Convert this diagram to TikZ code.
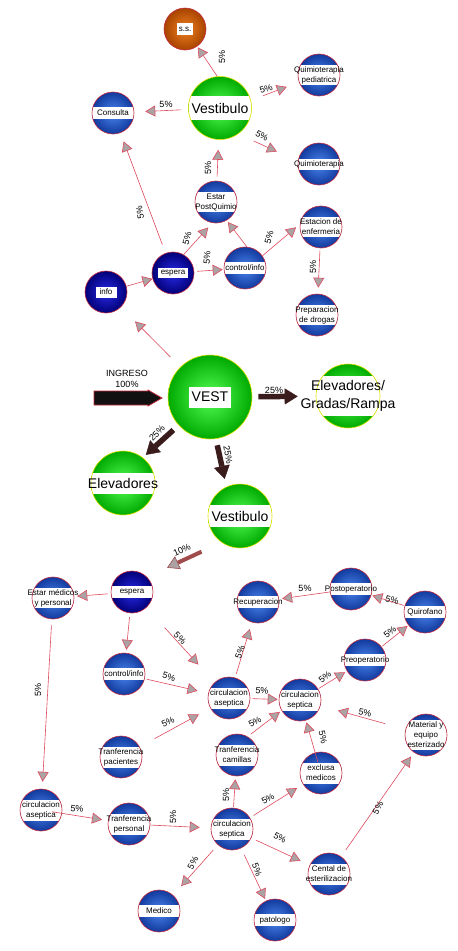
\documentclass[tikz,border=0pt]{standalone}
\usepackage{fontspec}
\setmainfont{Liberation Sans}
\usetikzlibrary{arrows.meta}

\definecolor{rimred}{HTML}{C42A3E}
\definecolor{rimyel}{HTML}{E4E400}
\definecolor{blueIn}{HTML}{4A86EE}
\definecolor{blueOut}{HTML}{123A9E}
\definecolor{navyIn}{HTML}{2A2AE6}
\definecolor{navyOut}{HTML}{000078}
\definecolor{greenIn}{HTML}{55FF55}
\definecolor{greenOut}{HTML}{00AA00}
\definecolor{orangeIn}{HTML}{EE8020}
\definecolor{orangeOut}{HTML}{A84400}
\definecolor{link}{HTML}{DE4A5E}
\definecolor{tipgray}{HTML}{ABA2A4}
\definecolor{heavy}{HTML}{3A1C1C}
\definecolor{tenbrown}{HTML}{A04C4C}
\definecolor{ingress}{HTML}{121010}

\newcommand\smalltxt{\fontsize{8}{10}\selectfont}
\newcommand\bigtxt{\fontsize{14}{18}\selectfont}
\newcommand\pcttxt{\fontsize{9}{11}\selectfont}

% a shaded ball of fixed size, with its caption set on top of it
% #1 ball style, #2 caption style, #3 name, #4 position, #5 caption
\newcommand\ballnode[5]{%
  \node[#1] (#3) at (#4) {};
  \node[#2] (#3-txt) at (#3) {#5};}

\tikzset{
  sphere/.style={circle, inner sep=0pt, line width=0.6pt},
  bluesph/.style={sphere, minimum size=42pt, draw=rimred, inner color=blueIn, outer color=blueOut},
  navysph/.style={sphere, minimum size=42pt, draw=rimred, inner color=navyIn, outer color=navyOut},
  orangesph/.style={sphere, minimum size=42pt, draw=rimred, inner color=orangeIn, outer color=orangeOut},
  greensph/.style={sphere, minimum size=64pt, draw=rimyel, inner color=greenIn, outer color=greenOut},
  smallcap/.style={font=\smalltxt, align=center, inner sep=0pt, text=black},
  bigcap/.style={font=\bigtxt, align=center, inner sep=0pt, text=black},
  band/.style={path picture={\fill[white] ([xshift=-60pt,yshift=-#1/2]path picture bounding box.center) rectangle ([xshift=60pt,yshift=#1/2]path picture bounding box.center);}},
  tag/.style n args={2}{path picture={\fill[white] ([xshift=-#1/2,yshift=-#2/2]path picture bounding box.center) rectangle ([xshift=#1/2,yshift=#2/2]path picture bounding box.center);}},
  flow/.style={draw=link, line width=0.6pt, -{Triangle[length=10pt,width=11pt,fill=tipgray]}},
  heavyflow/.style={draw=heavy, line width=5.5pt, -{Triangle[length=13pt,width=16pt,line width=0.4pt]}},
  tenflow/.style={draw=tenbrown, line width=4pt, -{Triangle[length=12pt,width=14pt,line width=0.6pt,fill=tipgray]}},
  pct/.style={font=\pcttxt, inner sep=0pt, text=black},
}

\begin{document}
\begin{tikzpicture}[x=1pt,y=-1pt]
\fill[white] (0,0) rectangle (458,951);
\useasboundingbox (0,0) rectangle (458,951);

% ---------- upper cluster ----------
\ballnode{orangesph, tag={16pt}{12pt}}{smallcap}{ss}{185,29}{s.s.}
\ballnode{greensph, minimum size=63pt, band=24pt}{bigcap}{vtop}{220,108}{Vestibulo}
\ballnode{bluesph, band=12pt}{smallcap}{consulta}{113,113}{Consulta}
\ballnode{bluesph, band=20pt}{smallcap}{qped}{319,75}{Quimioterapia\\pediatrica}
\ballnode{bluesph, band=11pt}{smallcap}{quimio}{319,164}{Quimioterapia}
\ballnode{bluesph, band=20pt}{smallcap}{postq}{216,202}{Estar\\PostQuimio}
\ballnode{bluesph, band=20pt}{smallcap}{enfer}{321,227}{Estacion de\\enfermeria}
\ballnode{navysph, tag={30pt}{10pt}}{smallcap}{espA}{173,273}{espera}
\ballnode{bluesph, band=12pt}{smallcap}{ctrlA}{245,268}{control/info}
\ballnode{navysph, tag={21pt}{11pt}}{smallcap}{info}{106,292}{info}
\ballnode{bluesph, band=20pt}{smallcap}{drogas}{317,315}{Preparacion\\de drogas}

% ---------- entrance hub ----------
\ballnode{greensph, minimum size=84pt, tag={42pt}{21pt}}{bigcap}{vest}{210,397}{VEST}
\ballnode{greensph, band=40pt}{bigcap}{egr}{348,396}{Elevadores/\\Gradas/Rampa}
\ballnode{greensph, band=21pt}{bigcap}{elev}{123,483}{Elevadores}
\ballnode{greensph, band=22pt}{bigcap}{vlow}{240,516}{Vestibulo}

% ---------- lower cluster ----------
\ballnode{navysph, band=12pt}{smallcap}{espB}{132,592}{espera}
\ballnode{bluesph, band=20pt}{smallcap}{medpers}{53,598}{Estar médicos\\y personal}
\ballnode{bluesph, band=12pt}{smallcap}{ctrlB}{124,674}{control/info}
\ballnode{bluesph, band=21pt}{smallcap}{asepA}{229,698}{circulacion\\aseptica}
\ballnode{bluesph, band=12pt}{smallcap}{recup}{258,602}{Recuperacion}
\ballnode{bluesph, band=12pt}{smallcap}{postop}{351,589}{Postoperatorio}
\ballnode{bluesph, band=12pt}{smallcap}{quirof}{425,612}{Quirofano}
\ballnode{bluesph, band=12pt}{smallcap}{preop}{365,660}{Preoperatorio}
\ballnode{bluesph, band=21pt}{smallcap}{septA}{300,700}{circulacion\\septica}
\ballnode{bluesph, band=30pt}{smallcap}{material}{426,735}{Material y\\equipo\\esterizado}
\ballnode{bluesph, band=21pt}{smallcap}{tpac}{121,757}{Tranferencia\\pacientes}
\ballnode{bluesph, band=21pt}{smallcap}{tcam}{237,755}{Tranferencia\\camillas}
\ballnode{bluesph, band=21pt}{smallcap}{exclusa}{321,773}{exclusa\\medicos}
\ballnode{bluesph, band=21pt}{smallcap}{asepB}{41,810}{circulacion\\aseptica}
\ballnode{bluesph, band=21pt}{smallcap}{tpers}{129,824}{Tranferencia\\personal}
\ballnode{bluesph, band=21pt}{smallcap}{septB}{232,829}{circulacion\\septica}
\ballnode{bluesph, band=21pt}{smallcap}{central}{329,874}{Cental de\\esterilizacion}
\ballnode{bluesph, band=12pt}{smallcap}{medico}{159,911}{Medico}
\ballnode{bluesph, band=12pt}{smallcap}{patol}{275,920}{patologo}

% ---------- upper connectors ----------
\draw[flow, shorten <=0pt, shorten >=1pt] (vtop.95) -- (ss.-55);
\draw[flow, shorten <=7pt, shorten >=11pt] (vtop) -- (consulta);
\draw[flow, shorten <=13pt, shorten >=13pt] (vtop.14) -- (qped.200);
\draw[flow, shorten <=17pt, shorten >=23pt] (vtop.-55) -- (quimio.172);
\draw[flow, shorten <=4pt, shorten >=10pt] (postq) -- (vtop);
\draw[flow, shorten <=9pt, shorten >=9pt] (espA) -- (consulta);
\draw[flow, shorten <=0pt, shorten >=6pt] (espA.60) -- (postq.-100);
\draw[flow, shorten <=3pt, shorten >=1pt] (espA) -- (ctrlA);
\draw[flow, shorten <=0pt, shorten >=2pt] (ctrlA.85) -- (postq.-60);
\draw[flow, shorten <=0pt, shorten >=5pt] (ctrlA.35) -- (enfer.172);
\draw[flow, shorten <=2pt, shorten >=6pt] (enfer) -- (drogas);
\draw[flow, shorten <=0pt, shorten >=0pt] (info) -- (espA);
\draw[flow, shorten <=14pt, shorten >=20pt] (vest) -- (info);

\node[pct, rotate=90] (p01) at (222,57) {5\%};
\node[pct] (p02) at (166,104) {5\%};
\node[pct, rotate=18] (p03) at (266,89) {5\%};
\node[pct, rotate=-30] (p04) at (262,136) {5\%};
\node[pct, rotate=90] (p05) at (208,168) {5\%};
\node[pct, rotate=100] (p06) at (140,213) {5\%};
\node[pct, rotate=75] (p07) at (187,238) {5\%};
\node[pct, rotate=85] (p08) at (207,258) {5\%};
\node[pct, rotate=75] (p09) at (269,237) {5\%};
\node[pct, rotate=90] (p10) at (313,267) {5\%};

% ---------- entrance flows ----------
\coordinate (entry) at (94,398);
\filldraw[fill=ingress, draw=rimred, line width=0.8pt]
  (entry) ++(0,-7) -- ++(54,0) -- ++(0,-1) -- ++(14,8) -- ++(-14,8) -- ++(0,-1) -- ++(-54,0) -- cycle;
\node[font=\pcttxt, align=center, inner sep=0pt] (ingtext) at (127,379) {INGRESO\\100\%};

\draw[heavyflow, shorten <=6pt, shorten >=18pt] (vest) -- (egr);
\draw[heavyflow, shorten <=7pt, shorten >=4pt] (vest.222) -- (elev.52);
\draw[heavyflow, shorten <=6.5pt, shorten >=8pt] (vest.-82) -- (vlow.115);
\draw[tenflow, shorten <=22pt, shorten >=22pt] (vlow.235) -- (espB.45);

\node[pct] (p11) at (274,390) {25\%};
\node[pct, rotate=45] (p12) at (157,433) {25\%};
\node[pct, rotate=-80] (p13) at (228,455) {25\%};
\node[pct, rotate=25] (p14) at (182,550) {10\%};

% ---------- lower connectors ----------
\draw[flow, shorten <=3pt, shorten >=3pt] (espB) -- (medpers);
\draw[flow, shorten <=4pt, shorten >=3pt] (espB) -- (ctrlB);
\draw[flow, shorten <=27pt, shorten >=24pt] (espB) -- (asepA);
\draw[flow, shorten <=2pt, shorten >=11pt] (ctrlB) -- (asepA);
\draw[flow, shorten <=17pt, shorten >=13pt] (tpac) -- (asepA);
\draw[flow, shorten <=4pt, shorten >=7pt] (asepA) -- (recup);
\draw[flow, shorten <=2pt, shorten >=1pt] (asepA) -- (septA);
\draw[flow, shorten <=4pt, shorten >=2pt] (tcam.60) -- (septA.-150);
\draw[flow, shorten <=1pt, shorten >=2pt] (septA) -- (preop);
\draw[flow, shorten <=1pt, shorten >=1pt] (preop) -- (quirof);
\draw[flow, shorten <=1pt, shorten >=1pt] (quirof) -- (postop);
\draw[flow, shorten <=0pt, shorten >=3pt] (postop) -- (recup);
\draw[flow, shorten <=21pt, shorten >=18pt] (material) -- (septA);
\draw[flow, shorten <=-10pt, shorten >=2pt] (exclusa) -- (septA);
\draw[flow, shorten <=6pt, shorten >=7pt] (medpers) -- (asepB);
\draw[flow, shorten <=-10pt, shorten >=6pt] (asepB) -- (tpers);
\draw[flow, shorten <=0pt, shorten >=11pt] (tpers) -- (septB);
\draw[flow, shorten <=1pt, shorten >=3pt] (septB) -- (tcam);
\draw[flow, shorten <=4pt, shorten >=7pt] (septB) -- (exclusa);
\draw[flow, shorten <=5pt, shorten >=10pt] (septB) -- (central);
\draw[flow, shorten <=7pt, shorten >=12pt] (septB) -- (medico);
\draw[flow, shorten <=7pt, shorten >=2pt] (septB) -- (patol);
\draw[flow, shorten <=8pt, shorten >=5pt] (central) -- (material);

\node[pct, rotate=-45] (p15) at (180,638) {5\%};
\node[pct, rotate=-18] (p16) at (169,677) {5\%};
\node[pct, rotate=25] (p17) at (168,722) {5\%};
\node[pct, rotate=70] (p18) at (240,652) {5\%};
\node[pct, rotate=-5] (p19) at (262,691) {5\%};
\node[pct, rotate=30] (p20) at (255,722) {5\%};
\node[pct, rotate=40] (p21) at (325,677) {5\%};
\node[pct, rotate=40] (p22) at (390,632) {5\%};
\node[pct, rotate=-15] (p23) at (392,600) {5\%};
\node[pct] (p24) at (305,588) {5\%};
\node[pct, rotate=-12] (p25) at (365,713) {5\%};
\node[pct, rotate=-78] (p26) at (323,737) {5\%};
\node[pct, rotate=90] (p27) at (38,690) {5\%};
\node[pct, rotate=-5] (p28) at (77,809) {5\%};
\node[pct, rotate=90] (p29) at (173,817) {5\%};
\node[pct, rotate=90] (p30) at (226,795) {5\%};
\node[pct, rotate=30] (p31) at (268,799) {5\%};
\node[pct, rotate=-30] (p32) at (280,838) {5\%};
\node[pct, rotate=60] (p33) at (193,863) {5\%};
\node[pct, rotate=-70] (p34) at (257,870) {5\%};
\node[pct, rotate=60] (p35) at (378,808) {5\%};
\end{tikzpicture}
\end{document}
